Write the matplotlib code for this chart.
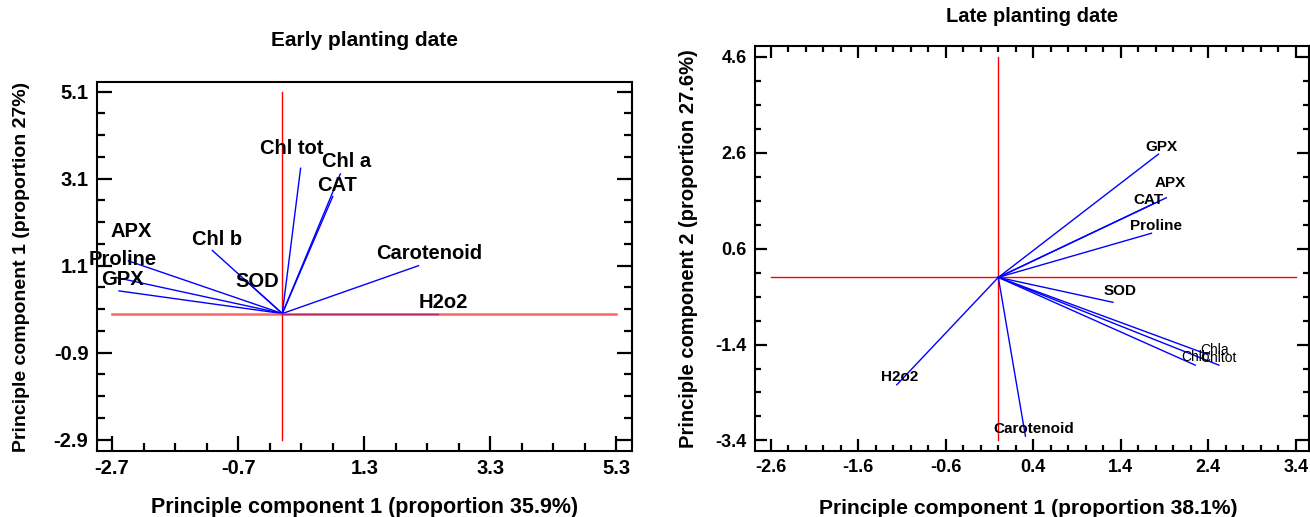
import matplotlib
matplotlib.use("Agg")
import matplotlib.pyplot as plt
from matplotlib.ticker import FixedLocator
import numpy as np

plt.rcParams['font.family'] = ['Liberation Sans', 'DejaVu Sans']
plt.rcParams['axes.unicode_minus'] = False

# ---- Early planting date (loadings) ----
early_vars = ["Chl tot", "Chl a", "CAT", "APX", "Chl b", "Proline", "GPX", "SOD", "Carotenoid", "H2o2"]
early_pc1 = [0.29, 0.92, 0.80, -2.44, -1.11, -2.64, -2.59, -0.60, 2.16, 2.47]
early_pc2 = [3.34, 3.21, 2.69, 1.21, 1.45, 0.83, 0.52, 0.78, 1.10, 0.0]
early_xticks = [-2.7, -0.7, 1.3, 3.3, 5.3]
early_yticks = [-2.9, -0.9, 1.1, 3.1, 5.1]

# ---- Late planting date (loadings) ----
late_vars = ["GPX", "APX", "CAT", "Proline", "SOD", "Chla", "Chlb", "Chltot", "H2o2", "Carotenoid"]
late_pc1 = [1.83, 1.92, 1.79, 1.75, 1.31, 2.38, 2.25, 2.52, -1.16, 0.31]
late_pc2 = [2.57, 1.66, 1.55, 0.92, -0.52, -1.60, -1.83, -1.83, -2.24, -3.31]
late_xticks = [-2.6, -1.6, -0.6, 0.4, 1.4, 2.4, 3.4]
late_yticks = [-3.4, -1.4, 0.6, 2.6, 4.6]

# label offsets from arrow tip, in pixels
early_off = {"Chl tot": (-9, 20), "Chl a": (6, 12), "CAT": (4, 11), "APX": (3, 29),
             "Chl b": (5, 11), "Proline": (7, 18), "GPX": (3, 11), "SOD": (13, -2),
             "Carotenoid": (11, 12), "H2o2": (5, 11)}
late_off = {"GPX": (3, 7), "APX": (4, 15), "CAT": (-7, 3), "Proline": (5, 7),
            "SOD": (7, 11), "Chla": (8, 4), "Chlb": (0, 8), "Chltot": (0, 7),
            "H2o2": (3, 8), "Carotenoid": (8, 7)}

fig = plt.figure(figsize=(13.1, 5.17), dpi=100)
ax1 = fig.add_axes([96.8 / 1310, 1 - 451 / 517, 535 / 1310, 368.7 / 517])
ax2 = fig.add_axes([755 / 1310, 1 - 451 / 517, 554 / 1310, 405.3 / 517])


def style_axes(ax, xticks, yticks, xminor, yminor, top, fs, majlen, minlen):
    for s in ax.spines.values():
        s.set_linewidth(1.5)
    ax.xaxis.set_major_locator(FixedLocator(xticks))
    ax.yaxis.set_major_locator(FixedLocator(yticks))
    # minor ticks aligned with the (odd) major positions
    ax.xaxis.set_minor_locator(FixedLocator(np.arange(xticks[0], xticks[-1] + 1e-6, xminor)))
    ax.yaxis.set_minor_locator(FixedLocator(np.arange(yticks[0], yticks[-1] + 1e-6, yminor)))
    ax.set_xticklabels([f"{t:g}" for t in xticks])
    ax.set_yticklabels([f"{t:g}" for t in yticks])
    ax.tick_params(which='both', direction='in', top=top, right=True, width=1.6)
    ax.tick_params(which='major', length=majlen, labelsize=fs, pad=6)
    ax.tick_params(which='minor', length=minlen)
    for lab in ax.get_xticklabels() + ax.get_yticklabels():
        lab.set_fontweight('bold')


# Early
ax1.plot([0, 0], [early_yticks[0], early_yticks[-1]], color='red', lw=1)
for name, x, y in zip(early_vars, early_pc1, early_pc2):
    ax1.plot([0, x], [0, y], color='blue', lw=1)
    ax1.annotate(name, (x, y), xytext=early_off[name], textcoords='offset pixels',
                 ha='center', va='center', fontsize=14.5, fontweight='bold')
ax1.plot([early_xticks[0], early_xticks[-1]], [0, 0], color='#ff3030', lw=1.8, alpha=0.75)
ax1.set_xlim(-2.943, 5.544)
ax1.set_ylim(-3.16, 5.316)
style_axes(ax1, early_xticks, early_yticks, 0.5, 0.5, False, 14.5, 11, 5.5)
ax1.set_xlabel("Principle component 1 (proportion 35.9%)", fontsize=15.5, fontweight='bold')
ax1.set_ylabel("Principle component 1 (proportion 27%)", fontsize=14, fontweight='bold')
ax1.xaxis.set_label_coords(0.5, -(508 - 451) / 368.7)
ax1.xaxis.label.set_va('center')
ax1.yaxis.set_label_coords((22 - 96.8) / 535, 0.5)
ax1.yaxis.label.set_va('center')
ax1.text(0.5, (451 - 40) / 368.7, "Early planting date", transform=ax1.transAxes,
         ha='center', va='center', fontsize=15, fontweight='bold')

# Late
ax2.plot([0, 0], [late_yticks[0], late_yticks[-1]], color='red', lw=1)
ax2.plot([late_xticks[0], late_xticks[-1]], [0, 0], color='red', lw=1)
for name, x, y in zip(late_vars, late_pc1, late_pc2):
    ax2.plot([0, x], [0, y], color='blue', lw=1)
    bold = not name.startswith("Chl")
    ax2.annotate(name, (x, y), xytext=late_off[name], textcoords='offset pixels',
                 ha='center', va='center', fontsize=11 if bold else 10,
                 fontweight='bold' if bold else 'normal')
ax2.set_xlim(-2.78, 3.55)
ax2.set_ylim(-3.62, 4.83)
style_axes(ax2, late_xticks, late_yticks, 0.2, 0.5, True, 13, 8.5, 4.5)
ax2.set_xlabel("Principle component 1 (proportion 38.1%)", fontsize=15.2, fontweight='bold')
ax2.set_ylabel("Principle component 2 (proportion 27.6%)", fontsize=14.5, fontweight='bold')
ax2.xaxis.set_label_coords((1028 - 755) / 554, -(508 - 451) / 405.3)
ax2.xaxis.label.set_va('center')
ax2.yaxis.set_label_coords((688 - 755) / 554, 0.5)
ax2.yaxis.label.set_va('center')
ax2.text(0.5, (451 - 16) / 405.3, "Late planting date", transform=ax2.transAxes,
         ha='center', va='center', fontsize=14.5, fontweight='bold')

fig.savefig("out.png", dpi=100)
